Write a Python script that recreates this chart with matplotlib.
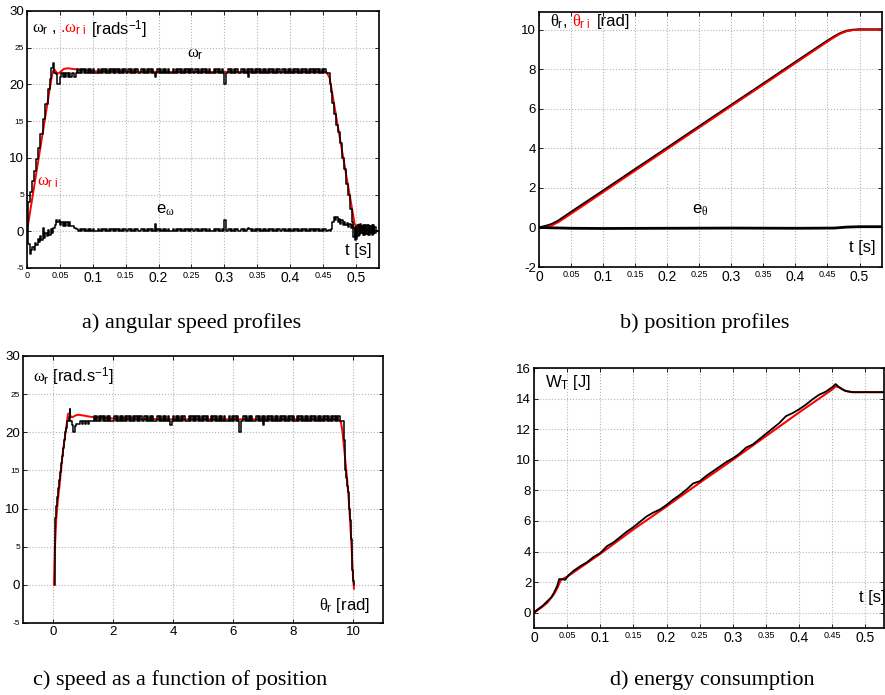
import numpy as np
import matplotlib
matplotlib.use('Agg')
import matplotlib.pyplot as plt

plt.rcParams['font.family'] = ['Liberation Sans', 'DejaVu Sans']
plt.rcParams['mathtext.fontset'] = 'custom'
plt.rcParams['mathtext.rm'] = 'Liberation Sans'
plt.rcParams['mathtext.it'] = 'Liberation Serif'
plt.rcParams['mathtext.bf'] = 'Liberation Sans:bold'

RED = '#ff0000'

# ---------------- a) angular speed profiles ----------------
# reference speed (red)
wr_t = [0, 0.005, 0.01, 0.015, 0.02, 0.025, 0.03, 0.035, 0.038, 0.040, 0.042, 0.045, 0.048,
        0.052, 0.056, 0.062, 0.07, 0.08, 0.1, 0.2, 0.3, 0.4, 0.455, 0.46, 0.465, 0.47, 0.475,
        0.48, 0.485, 0.49, 0.495, 0.498, 0.501, 0.504, 0.507, 0.51, 0.535]
wr = [0, 2.8, 5.6, 8.4, 11.2, 14.0, 16.8, 19.6, 21.2, 21.9, 22.0, 21.6, 21.5,
      21.8, 22.1, 22.2, 22.1, 22.0, 21.8, 21.7, 21.7, 21.7, 21.7, 20.9, 18.3, 15.6, 13.0,
      10.4, 7.8, 5.2, 2.6, 1.0, 0.5, 0.9, 0.8, 0.2, 0.0]

# measured speed (black): start-up, chattering plateau, stop
w_t_start = [0, 0.002, 0.004, 0.007, 0.01, 0.013, 0.016, 0.02, 0.024, 0.028,
             0.032, 0.035, 0.037, 0.039, 0.041, 0.044, 0.046, 0.050, 0.052, 0.054,
             0.056, 0.058, 0.060, 0.062, 0.064, 0.066, 0.068, 0.070, 0.072, 0.074]
w_start = [0, 4.0, 5.3, 6.8, 8.2, 9.8, 11.3, 13.2, 15.3, 17.3,
           19.4, 20.8, 22.2, 22.9, 21.6, 21.4, 20.1, 21.0, 21.5, 21.0,
           21.5, 21.0, 21.5, 21.0, 21.5, 21.0, 21.5, 21.5, 21.0, 21.5]
w_chat = [22.1, 21.5, 22.1, 21.5, 22.1, 21.5, 22.1, 21.5, 22.1, 21.5,
          22.1, 21.5, 22.1, 21.5, 21.5, 21.5, 22.1, 21.5, 22.1, 21.5,
          22.1, 21.5, 22.1, 21.5, 22.1, 21.5, 22.1, 21.5, 22.1, 21.5,
          22.1, 21.5, 22.1, 21.5, 22.1, 21.5, 22.1, 21.5, 21.5, 22.1,
          21.5, 22.1, 21.5, 22.1, 21.5, 22.1, 21.5, 21.5, 21.5, 22.1,
          21.5, 22.1, 21.5, 22.1, 21.5, 22.1, 21.5, 22.1, 21.5, 21.0,
          21.5, 22.1, 21.5, 22.1, 21.5, 22.1, 21.5, 22.1, 21.5, 22.1,
          21.5, 21.5, 21.5, 22.1, 21.5, 22.1, 21.5, 22.1, 21.5, 22.1,
          21.5, 22.1, 21.5, 22.1, 21.5, 22.1, 21.5, 22.1, 21.5, 21.5,
          22.1, 21.5, 22.1, 21.5, 22.1, 21.5, 22.1, 21.5, 22.1, 21.5,
          22.1, 21.5, 21.5, 21.5, 22.1, 21.5, 22.1, 21.5, 22.1, 21.5,
          22.1, 21.5, 20.1, 21.5, 21.5, 22.1, 21.5, 22.1, 21.5, 22.1,
          21.5, 22.1, 21.5, 21.5, 21.5, 22.1, 21.5, 22.1, 21.5, 22.1,
          21.0, 22.1, 21.5, 22.1, 21.5, 22.1, 21.5, 22.1, 21.5, 22.1,
          21.5, 22.1, 21.5, 22.1, 21.5, 22.1, 21.5, 22.1, 21.5, 22.1,
          21.5, 22.1, 21.5, 22.1, 21.5, 21.5, 22.1, 21.5, 22.1, 21.5,
          22.1, 21.5, 22.1, 21.5, 22.1, 21.5, 22.1, 21.5, 22.1, 21.5,
          22.1, 21.5, 22.1, 21.5, 22.1, 21.5, 22.1, 21.5, 22.1, 21.5,
          22.1, 21.5, 22.1, 21.5, 22.1, 21.5, 22.1, 21.5, 22.1, 21.5,
          21.5]
w_t_end = [0.458, 0.460, 0.462, 0.464, 0.467, 0.470, 0.473, 0.476, 0.479, 0.482,
           0.485, 0.488, 0.491, 0.494, 0.496, 0.498, 0.500, 0.502, 0.504, 0.506,
           0.508, 0.510, 0.512, 0.514, 0.516, 0.518, 0.520, 0.522, 0.524, 0.526,
           0.528, 0.530, 0.535]
w_end = [21.5, 20.0, 19.0, 17.5, 16.0, 14.5, 13.5, 12.0, 10.0, 8.5,
         6.5, 5.0, 3.0, 1.2, -0.8, 0.6, -1.0, 0.8, -0.5, 1.0,
         -0.3, 0.8, -0.5, 0.7, -0.4, 0.8, -0.5, 0.7, -0.5, 0.8,
         -0.3, 0.0, 0.0]

# speed error (black)
e_t_start = [0, 0.002, 0.004, 0.006, 0.008, 0.010, 0.012, 0.014, 0.016, 0.018,
             0.020, 0.022, 0.024, 0.026, 0.028, 0.030, 0.032, 0.034, 0.036, 0.038,
             0.040, 0.042, 0.044, 0.046, 0.048, 0.050, 0.052, 0.054, 0.056, 0.058,
             0.060, 0.062, 0.064, 0.066, 0.068, 0.070, 0.072, 0.074]
e_start = [0, -1.8, -3.1, -2.6, -2.2, -2.5, -1.6, -1.9, -1.0, -1.5,
           -0.6, -1.2, 0.5, -0.9, -0.2, -0.7, 0.2, -0.5, 0.3, -0.2,
           0.4, 0.9, 1.6, 1.2, 1.5, 0.8, 1.2, 0.7, 1.2, 0.7,
           1.2, 0.7, 1.2, 0.7, 0.7, 0.7, 0.5, 0.3]
e_chat = [0.3, 0.0, 0.3, 0.0, 0.3, 0.0, 0.3, 0.0, 0.3, 0.0,
          0.3, 0.0, 0.3, 0.0, 0.0, 0.0, 0.3, 0.0, 0.3, 0.0,
          0.3, 0.0, 0.3, 0.0, 0.3, 0.0, 0.3, 0.0, 0.3, 0.0,
          0.3, 0.0, 0.3, 0.0, 0.3, 0.0, 0.3, 0.0, 0.0, 0.3,
          0.0, 0.3, 0.0, 0.3, 0.0, 0.3, 0.0, 0.0, 0.0, 0.3,
          0.0, 0.3, 0.0, 0.3, 0.0, 0.3, 0.0, 0.3, 0.0, 1.0,
          0.0, 0.3, 0.0, 0.3, 0.0, 0.3, 0.0, 0.3, 0.0, 0.3,
          0.0, 0.0, 0.0, 0.3, 0.0, 0.3, 0.0, 0.3, 0.0, 0.3,
          0.0, 0.3, 0.0, 0.3, 0.0, 0.3, 0.0, 0.3, 0.0, 0.0,
          0.3, 0.0, 0.3, 0.0, 0.3, 0.0, 0.3, 0.0, 0.3, 0.0,
          0.3, 0.0, 0.0, 0.0, 0.3, 0.0, 0.3, 0.0, 0.3, 0.0,
          0.3, 0.0, 1.6, 0.0, 0.0, 0.3, 0.0, 0.3, 0.0, 0.3,
          0.0, 0.3, 0.0, 0.0, 0.0, 0.3, 0.0, 0.3, 0.0, 0.3,
          0.5, 0.3, 0.0, 0.3, 0.0, 0.3, 0.0, 0.3, 0.0, 0.3,
          0.0, 0.3, 0.0, 0.3, 0.0, 0.3, 0.0, 0.3, 0.0, 0.3,
          0.0, 0.3, 0.0, 0.3, 0.0, 0.0, 0.3, 0.0, 0.3, 0.0,
          0.3, 0.0, 0.3, 0.0, 0.3, 0.0, 0.3, 0.0, 0.3, 0.0,
          0.3, 0.0, 0.3, 0.0, 0.3, 0.0, 0.3, 0.0, 0.3, 0.0,
          0.3, 0.0, 0.3, 0.0, 0.3, 0.0, 0.3, 0.0, 0.3, 0.0,
          0.0]
e_t_end = [0.458, 0.460, 0.462, 0.464, 0.466, 0.468, 0.470, 0.472, 0.474, 0.476,
           0.478, 0.480, 0.482, 0.484, 0.486, 0.488, 0.490, 0.492, 0.494, 0.496,
           0.498, 0.500, 0.502, 0.504, 0.506, 0.508, 0.510, 0.512, 0.514, 0.516,
           0.518, 0.520, 0.522, 0.524, 0.526, 0.528, 0.530, 0.535]
e_end = [0.2, 0.0, 0.3, 1.2, 2.0, 1.6, 1.9, 1.2, 1.7, 1.0,
         1.5, 0.9, 1.3, 0.8, 1.1, 0.6, 1.0, 0.5, 0.9, 0.4,
         -1.2, 0.5, -0.6, 0.9, -0.3, 0.7, -0.5, 0.9, -0.4, 0.8,
         -0.5, 0.7, -0.2, 0.8, -0.4, 0.6, 0.0, 0.0]

# ---------------- b) position profiles ----------------
th_t = [0, 0.01, 0.02, 0.03, 0.04, 0.05, 0.075, 0.1, 0.15, 0.2, 0.25, 0.3, 0.35, 0.4,
        0.45, 0.46, 0.47, 0.48, 0.49, 0.5, 0.535]
th_red = [0, 0.02, 0.1, 0.26, 0.47, 0.69, 1.23, 1.78, 2.87, 3.96, 5.05, 6.14, 7.22, 8.31,
          9.4, 9.61, 9.8, 9.93, 9.99, 10.0, 10.0]
th_blk = [0, 0.07, 0.17, 0.34, 0.56, 0.78, 1.32, 1.86, 2.95, 4.03, 5.12, 6.2, 7.28, 8.37,
          9.45, 9.65, 9.83, 9.95, 10.0, 10.02, 10.02]
eth_t = [0, 0.05, 0.1, 0.2, 0.3, 0.4, 0.46, 0.48, 0.5, 0.535]
eth = [0, -0.04, -0.05, -0.04, -0.03, -0.04, -0.03, 0.02, 0.04, 0.04]

# ---------------- c) speed vs position ----------------
wc_th_red = [0.03, 0.06, 0.11, 0.16, 0.22, 0.28, 0.33, 0.39, 0.44, 0.50,
             0.55, 0.60, 0.66, 0.75, 0.85, 1.0, 1.3, 2.0, 4.0, 6.0,
             8.0, 9.5, 9.6, 9.65, 9.7, 9.75, 9.8, 9.85, 9.9, 9.95,
             10.0, 10.03]
wc_red = [0, 4.5, 8.7, 11.0, 13.1, 15.5, 17.5, 19.2, 20.6, 22.4,
          22.5, 22.0, 22.0, 22.2, 22.3, 22.2, 22.0, 21.8, 21.7, 21.7,
          21.7, 21.7, 21.3, 20.0, 18.0, 16.0, 14.0, 11.5, 8.5, 5.0,
          1.0, -0.5]
wc_th_start = [0.05, 0.06, 0.08, 0.11, 0.14, 0.17, 0.2, 0.23, 0.27, 0.3,
               0.33, 0.37, 0.41, 0.44, 0.48, 0.52, 0.55, 0.58, 0.62, 0.66,
               0.72, 0.78, 0.83, 0.9, 0.95, 1.0, 1.05, 1.1, 1.15, 1.2,
               1.25, 1.3]
wc_start = [0, 3.8, 8.7, 10.3, 11.5, 12.7, 13.8, 14.8, 16.0, 16.9,
            18.0, 19.0, 20.0, 20.6, 21.5, 22.0, 23.0, 21.5, 21.0, 20.1,
            20.8, 21.1, 21.1, 21.5, 21.1, 21.5, 21.1, 21.5, 21.1, 21.5,
            21.5, 21.5]
wc_th_end = [9.62, 9.66, 9.7, 9.72, 9.76, 9.8, 9.83, 9.86, 9.89, 9.92,
             9.95, 9.98, 10.0, 10.02]
wc_end = [21.5, 21.5, 19.0, 15.0, 14.0, 13.0, 12.2, 10.0, 8.5, 6.0,
          4.0, 2.0, 0.5, 0.0]

# ---------------- d) energy consumption ----------------
wd_t = [0, 0.005, 0.013, 0.02, 0.026, 0.03, 0.035, 0.038, 0.042, 0.047, 0.052, 0.06, 0.07,
        0.08, 0.09, 0.1, 0.11, 0.12, 0.13, 0.14, 0.15, 0.16, 0.17, 0.18, 0.19,
        0.2, 0.21, 0.22, 0.23, 0.24, 0.25, 0.26, 0.27, 0.28, 0.29,
        0.3, 0.31, 0.32, 0.33, 0.34, 0.35, 0.36, 0.37, 0.38, 0.39,
        0.4, 0.41, 0.42, 0.43, 0.44, 0.45, 0.455, 0.46, 0.465, 0.47, 0.48, 0.53]
wd_blk = [0, 0.2, 0.45, 0.75, 1.0, 1.3, 1.75, 2.2, 2.2, 2.15, 2.45, 2.75, 3.05,
          3.3, 3.65, 3.9, 4.35, 4.6, 4.95, 5.3, 5.6, 5.95, 6.3, 6.55, 6.75,
          7.05, 7.4, 7.7, 8.05, 8.45, 8.6, 8.95, 9.25, 9.55, 9.85,
          10.1, 10.4, 10.8, 11.0, 11.35, 11.7, 12.05, 12.4, 12.85, 13.05,
          13.3, 13.6, 13.95, 14.25, 14.45, 14.75, 14.95, 14.75, 14.6, 14.5, 14.42, 14.42]
wd_rt = [0, 0.01, 0.02, 0.03, 0.035, 0.04, 0.045, 0.05, 0.1, 0.15, 0.2, 0.25, 0.3, 0.35,
         0.4, 0.45, 0.455, 0.46, 0.47, 0.48, 0.53]
wd_red = [0, 0.3, 0.65, 1.2, 1.6, 2.1, 2.25, 2.35, 3.85, 5.45, 6.95, 8.5, 10.0, 11.55,
          13.1, 14.6, 14.8, 14.75, 14.5, 14.42, 14.42]

# sampling instants of the chattering plateau
t_chat = np.linspace(0.076, 0.456, len(w_chat))
th_chat = np.linspace(1.35, 9.6, len(w_chat))

w_t = np.concatenate([w_t_start, t_chat, w_t_end])
w_blk = np.concatenate([w_start, w_chat, w_end])
e_t = np.concatenate([e_t_start, t_chat, e_t_end])
e_blk = np.concatenate([e_start, e_chat, e_end])
wc_th = np.concatenate([wc_th_start, th_chat, wc_th_end])
wc_blk = np.concatenate([wc_start, w_chat, wc_end])

# tick labels
t_ticks = [0, 0.05, 0.1, 0.15, 0.2, 0.25, 0.3, 0.35, 0.4, 0.45, 0.5]
t_labels = ['0', '0.05', '0.1', '0.15', '0.2', '0.25', '0.3', '0.35', '0.4', '0.45', '0.5']
w_ticks = [-5, 0, 5, 10, 15, 20, 25, 30]
w_labels = ['-5', '0', '5', '10', '15', '20', '25', '30']
th_ticks = [-2, 0, 2, 4, 6, 8, 10]
th_labels = ['-2', '0', '2', '4', '6', '8', '10']
pos_ticks = [0, 2, 4, 6, 8, 10]
pos_labels = ['0', '2', '4', '6', '8', '10']
en_ticks = [0, 2, 4, 6, 8, 10, 12, 14, 16]
en_labels = ['0', '2', '4', '6', '8', '10', '12', '14', '16']

BIG_X, SMALL_X = 10, 6.5
BIG_Y, SMALL_Y = 9.5, 6


def style(ax, xt, xl, xs, yt, yl, ys, xlim, ylim):
    ax.set_xlim(*xlim)
    ax.set_ylim(*ylim)
    ax.set_xticks(xt)
    ax.set_xticklabels(xl)
    ax.set_yticks(yt)
    ax.set_yticklabels(yl)
    for lab, s in zip(ax.get_xticklabels(), xs):
        lab.set_fontsize(s)
    for lab, s in zip(ax.get_yticklabels(), ys):
        lab.set_fontsize(s)
    ax.grid(True, color='#b5b5b5', linestyle=':', linewidth=0.8)
    ax.tick_params(direction='in', length=3, width=0.6, top=True, right=True, pad=2)
    for sp in ax.spines.values():
        sp.set_linewidth(1.2)


fig = plt.figure(figsize=(8.85, 6.95), dpi=100)

# a)
ax = fig.add_axes([0.0305, 0.6144, 0.3977, 0.3698])
ax.plot(wr_t, wr, color=RED, lw=1.4)
ax.plot(w_t, w_blk, color='black', lw=1.1, drawstyle='steps-post')
ax.plot(e_t, e_blk, color='black', lw=1.1, drawstyle='steps-post')
xs = [SMALL_X if i % 2 == 1 or i == 0 else BIG_X for i in range(len(t_ticks))]
ys = [SMALL_Y if v % 10 else BIG_Y for v in w_ticks]
style(ax, t_ticks, t_labels, xs, w_ticks, w_labels, ys, (0, 0.535), (-5, 30))
ax.text(0.014, 0.926, r'$\omega_\mathrm{r}$ , ', transform=ax.transAxes, fontsize=12, va='center')
ax.text(0.094, 0.926, r'.$\omega_\mathrm{r\ i}$', transform=ax.transAxes, fontsize=12, va='center', color=RED)
ax.text(0.182, 0.926, r'[rads$^\mathrm{-1}$]', transform=ax.transAxes, fontsize=12, va='center')
ax.text(0.477, 0.829, r'$\omega_\mathrm{r}$', transform=ax.transAxes, fontsize=12, ha='center', va='center')
ax.text(0.028, 0.331, r'$\omega_\mathrm{r\ i}$', transform=ax.transAxes, fontsize=12, va='center', color=RED)
ax.text(0.392, 0.226, r'e$_\omega$', transform=ax.transAxes, fontsize=12, ha='center', va='center')
ax.text(0.942, 0.07, 't [s]', transform=ax.transAxes, fontsize=12, ha='center', va='center')

# b)
ax = fig.add_axes([0.609, 0.6158, 0.3876, 0.3669])
ax.plot(th_t, th_blk, color='black', lw=1.6)
ax.plot(th_t, th_red, color=RED, lw=1.3)
ax.plot(eth_t, eth, color='black', lw=2.0)
xs = [SMALL_X if i % 2 == 1 else BIG_X for i in range(len(t_ticks))]
style(ax, t_ticks, t_labels, xs, th_ticks, th_labels, [BIG_Y] * len(th_ticks), (0, 0.535), (-2, 10.9))
ax.text(0.032, 0.961, r'$\theta_\mathrm{r}$, ', transform=ax.transAxes, fontsize=12, va='center')
ax.text(0.096, 0.961, r'$\theta_\mathrm{r\ i}$', transform=ax.transAxes, fontsize=12, va='center', color=RED)
ax.text(0.169, 0.961, '[rad]', transform=ax.transAxes, fontsize=12, va='center')
ax.text(0.469, 0.224, r'e$_\theta$', transform=ax.transAxes, fontsize=12, ha='center', va='center')
ax.text(0.942, 0.075, 't [s]', transform=ax.transAxes, fontsize=12, ha='center', va='center')

# c)
ax = fig.add_axes([0.026, 0.1036, 0.4068, 0.3842])
ax.plot(wc_th_red, wc_red, color=RED, lw=1.4)
ax.plot(wc_th, wc_blk, color='black', lw=1.1, drawstyle='steps-post')
ys = [SMALL_Y if v % 10 else BIG_Y for v in w_ticks]
style(ax, pos_ticks, pos_labels, [BIG_Y] * len(pos_ticks), w_ticks, w_labels, ys, (-1, 11), (-5, 30))
ax.text(0.028, 0.921, r'$\omega_\mathrm{r}$ [rad.s$^\mathrm{-1}$]', transform=ax.transAxes, fontsize=12, va='center')
ax.text(0.892, 0.067, r'$\theta_\mathrm{r}$ [rad]', transform=ax.transAxes, fontsize=12, ha='center', va='center')

# d)
ax = fig.add_axes([0.6034, 0.0964, 0.3955, 0.3741])
ax.plot(wd_rt, wd_red, color=RED, lw=1.5)
ax.plot(wd_t, wd_blk, color='black', lw=1.3)
xs = [SMALL_X if i % 2 == 1 else BIG_X for i in range(len(t_ticks))]
style(ax, t_ticks, t_labels, xs, en_ticks, en_labels, [BIG_Y] * len(en_ticks), (0, 0.528), (-1, 16))
ax.text(0.031, 0.946, r'W$_\mathrm{T}$ [J]', transform=ax.transAxes, fontsize=12, va='center')
ax.text(0.929, 0.119, 't [s]', transform=ax.transAxes, fontsize=12, va='center')

# captions
cap = dict(fontsize=16, family=['Liberation Serif', 'DejaVu Serif'], ha='center', va='center')
fig.text(0.217, 0.535, 'a) angular speed profiles', **cap)
fig.text(0.796, 0.535, 'b) position profiles', **cap)
fig.text(0.203, 0.0216, 'c) speed as a function of position', **cap)
fig.text(0.805, 0.0216, 'd) energy consumption', **cap)

fig.savefig('out.png', dpi=100)
